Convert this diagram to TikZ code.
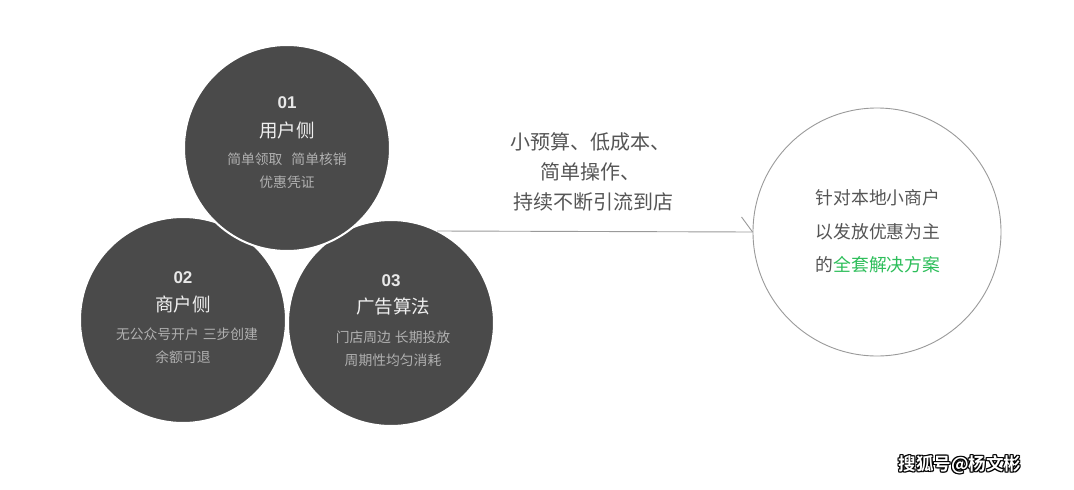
\documentclass[tikz,border=0pt]{standalone}
\usepackage{fontspec}
\setmainfont{Liberation Sans}
\newfontfamily\cjk{Noto Sans CJK SC}
\newfontfamily\cjkb{Noto Sans CJK SC Bold}
\definecolor{disc}{HTML}{4A4A4A}
\definecolor{numc}{HTML}{E8E8E8}
\definecolor{titc}{HTML}{F0F0F0}
\definecolor{subc}{HTML}{B0B0B0}
\definecolor{midc}{HTML}{555555}
\definecolor{linec}{HTML}{9A9A9A}
\definecolor{greenc}{HTML}{2DBE5A}
\begin{document}
\begin{tikzpicture}[x=1pt,y=-1pt,
  discnode/.style={circle,fill=disc,draw=white,line width=2pt,minimum size=206pt,inner sep=0pt},
  numtxt/.style={font=\fontsize{17}{17}\selectfont\bfseries,text=numc,inner sep=0pt},
  tittxt/.style={font=\cjk\fontsize{18.5}{18.5}\selectfont,text=titc,inner sep=0pt},
  subtxt/.style={font=\cjk\fontsize{13.8}{13.8}\selectfont,text=subc,inner sep=0pt},
  midtxt/.style={font=\cjk\fontsize{20}{20}\selectfont,text=midc,inner sep=0pt},
  rtxt/.style={font=\cjk\fontsize{17.8}{17.8}\selectfont,text=midc,inner sep=0pt},
  wm/.style={font=\cjkb\fontsize{17.5}{17.5}\selectfont,inner sep=0pt}]
\useasboundingbox (0,0) rectangle (1074,490);
\fill[white] (0,0) rectangle (1074,490);
% discs
\node[discnode] (c2) at (183,320) {};
\node[discnode] (c3) at (391,323) {};
\node[discnode] (c1) at (287,148) {};
% disc 01
\node[numtxt] (n1) at (287,103) {01};
\node[tittxt] (t1) at (287,130) {用户侧};
\node[subtxt] (s1a) at (287,159) {简单领取\hspace{9pt}简单核销};
\node[subtxt] (s1b) at (287,182) {优惠凭证};
% disc 02
\node[numtxt] (n2) at (183,278) {02};
\node[tittxt] (t2) at (183,304) {商户侧};
\node[subtxt] (s2a) at (187,334) {无公众号开户\hspace{4pt}三步创建};
\node[subtxt] (s2b) at (183,357) {余额可退};
% disc 03
\node[numtxt] (n3) at (391,281) {03};
\node[tittxt] (t3) at (393,307) {广告算法};
\node[subtxt] (s3a) at (393,337) {门店周边\hspace{4pt}长期投放};
\node[subtxt] (s3b) at (393,360) {周期性均匀消耗};
% middle text
\node[midtxt] (m1) at (590,142) {小预算、低成本、};
\node[midtxt] (m2) at (590,172) {简单操作、};
\node[midtxt] (m3) at (593,202) {持续不断引流到店};
% right circle
\node[circle,draw=linec,line width=0.9pt,minimum size=248pt,inner sep=0pt] (rc) at (877,232) {};
\node[rtxt] (r1) at (878,198) {针对本地小商户};
\node[rtxt] (r2) at (878,232) {以发放优惠为主};
\node[rtxt] (r3) at (878,265) {的\textcolor{greenc}{全套解决方案}};
% connector
\coordinate (ls) at (437,231);
\draw[linec,line width=0.9pt] (ls) -- (rc.west);
\draw[linec,line width=0.9pt] (rc.west) -- ++(-11,-15);
% watermark
\foreach \dx/\dy in {-1/0,1/0,0/-1,0/1,-1/-1,1/1,-1/1,1/-1}{
  \node[wm,text=black] at (960+\dx,465+\dy) {搜狐号@杨文彬};
}
\node[wm,text=white] (wmk) at (960,465) {搜狐号@杨文彬};
\end{tikzpicture}
\end{document}
